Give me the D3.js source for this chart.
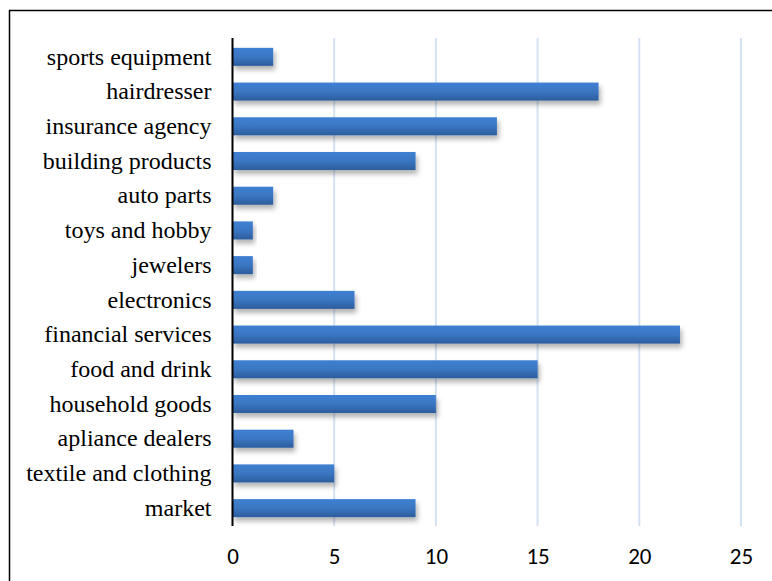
<!DOCTYPE html>
<html><head><meta charset="utf-8">
<script src="https://cdn.jsdelivr.net/npm/d3@7"></script>
<style>html,body{margin:0;padding:0;background:#fff;}svg{display:block;}</style>
</head><body>
<script>
const categories = ["sports equipment","hairdresser","insurance agency","building products","auto parts","toys and hobby","jewelers","electronics","financial services","food and drink","household goods","apliance dealers","textile and clothing","market"];
const values = [2,18,13,9,2,1,1,6,22,15,10,3,5,9];
const xTicks = [0,5,10,15,20,25];

const W = 772, H = 581;
const svg = d3.select("body").append("svg").attr("width", W).attr("height", H);

const defs = svg.append("defs");
const grad = defs.append("linearGradient").attr("id","barGrad").attr("x1",0).attr("y1",0).attr("x2",0).attr("y2",1);
grad.append("stop").attr("offset","0%").attr("stop-color","#3f80d2");
grad.append("stop").attr("offset","50%").attr("stop-color","#3a76c2");
grad.append("stop").attr("offset","100%").attr("stop-color","#2c5d9c");
const f = defs.append("filter").attr("id","shadow").attr("x","-10%").attr("y","-30%").attr("width","130%").attr("height","200%");
f.append("feDropShadow").attr("dx",2).attr("dy",4).attr("stdDeviation",2.5).attr("flood-color","#000").attr("flood-opacity",0.3);

// border
svg.append("rect").attr("x",9.5).attr("y",10.5).attr("width",W+20).attr("height",H+20)
  .attr("fill","none").attr("stroke","#000").attr("stroke-width",1.5);

const x = d3.scaleLinear().domain([0,25]).range([232.5,741]);
const y = d3.scaleBand().domain(categories).range([39.5,525.5]).paddingInner(0.48).paddingOuter(0.24);

// grid
svg.append("g").selectAll("line").data(xTicks.filter(d=>d>0)).join("line")
  .attr("x1",d=>x(d)).attr("x2",d=>x(d)).attr("y1",38).attr("y2",526)
  .attr("stroke","#d5e2f3").attr("stroke-width",2);

// bars
svg.append("g").selectAll("rect").data(categories).join("rect")
  .attr("x",x(0)).attr("y",d=>y(d)).attr("height",y.bandwidth())
  .attr("width",(d,i)=>x(values[i])-x(0))
  .attr("fill","url(#barGrad)").attr("filter","url(#shadow)");

// y axis line
svg.append("line").attr("x1",x(0)).attr("x2",x(0)).attr("y1",38).attr("y2",526)
  .attr("stroke","#000").attr("stroke-width",2);

// category labels
const yAxis = d3.axisLeft(y).tickSize(0).tickPadding(21);
const gy = svg.append("g").attr("transform",`translate(${x(0)},0)`).call(yAxis);
gy.select(".domain").remove();
gy.selectAll("text").attr("font-family","'Liberation Serif','Times New Roman',serif").attr("font-size",24).attr("fill","#000");

// x tick labels
const xAxis = d3.axisBottom(x).tickValues(xTicks).tickSize(0).tickPadding(0).tickFormat(d3.format("d"));
const gx = svg.append("g").attr("transform",`translate(0,564)`).call(xAxis);
gx.select(".domain").remove();
gx.selectAll("text").attr("dy",0).attr("y",0).attr("font-family","Carlito,Calibri,Lato,'Open Sans',sans-serif").attr("font-size",23).attr("fill","#000");
</script>
</body></html>
